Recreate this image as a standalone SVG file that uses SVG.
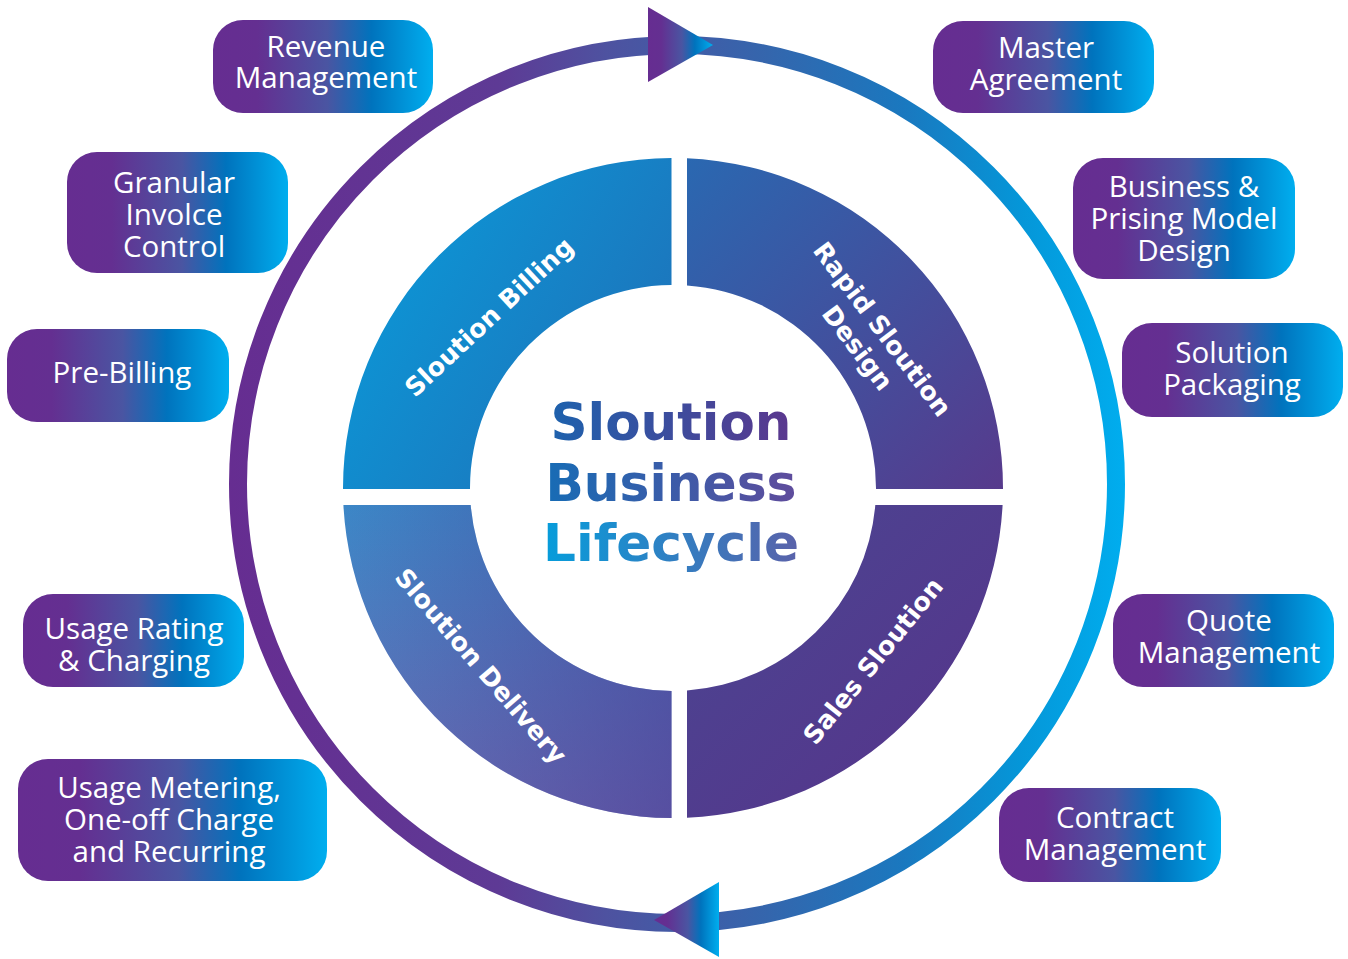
<svg xmlns="http://www.w3.org/2000/svg" width="1348" height="959" viewBox="0 0 1348 959">
<defs>
<linearGradient id="gBox" x1="0" y1="0" x2="1" y2="0">
<stop offset="0" stop-color="#662d91"/><stop offset="0.2" stop-color="#642f91"/><stop offset="0.52" stop-color="#4a55a2"/><stop offset="0.72" stop-color="#0073bd"/><stop offset="1" stop-color="#00aeef"/>
</linearGradient>
<linearGradient id="gRing" gradientUnits="userSpaceOnUse" x1="228" y1="0" x2="1128" y2="0">
<stop offset="0" stop-color="#662d91"/><stop offset="0.3" stop-color="#5e3a95"/><stop offset="0.42" stop-color="#4e52a0"/><stop offset="0.6" stop-color="#3466ad"/><stop offset="0.75" stop-color="#1a78bf"/><stop offset="0.88" stop-color="#0596d8"/><stop offset="1" stop-color="#00aeef"/>
</linearGradient>
<linearGradient id="gBill" x1="0" y1="0.2" x2="1" y2="0.8">
<stop offset="0" stop-color="#0a9ad9"/><stop offset="1" stop-color="#1f70b8"/>
</linearGradient>
<linearGradient id="gDes" x1="0" y1="0" x2="1" y2="1">
<stop offset="0" stop-color="#2a68b1"/><stop offset="1" stop-color="#573a8c"/>
</linearGradient>
<linearGradient id="gSal" x1="0" y1="0" x2="1" y2="1">
<stop offset="0" stop-color="#4a4692"/><stop offset="1" stop-color="#57338a"/>
</linearGradient>
<linearGradient id="gDel" x1="0" y1="0" x2="0" y2="1">
<stop offset="0" stop-color="#3c87c7"/><stop offset="1" stop-color="#6b6db4"/>
</linearGradient>
<linearGradient id="gDelOv" x1="0" y1="0" x2="1" y2="0">
<stop offset="0" stop-color="#4a3b94" stop-opacity="0"/><stop offset="1" stop-color="#4a3b94" stop-opacity="0.6"/>
</linearGradient>
<linearGradient id="gT1" gradientUnits="userSpaceOnUse" x1="548" y1="0" x2="792" y2="0">
<stop offset="0" stop-color="#1d62ad"/><stop offset="1" stop-color="#5b378e"/>
</linearGradient>
<linearGradient id="gT2" gradientUnits="userSpaceOnUse" x1="545" y1="0" x2="797" y2="0">
<stop offset="0" stop-color="#176cb5"/><stop offset="1" stop-color="#5f4c9c"/>
</linearGradient>
<linearGradient id="gT3" gradientUnits="userSpaceOnUse" x1="543" y1="0" x2="799" y2="0">
<stop offset="0" stop-color="#069ddb"/><stop offset="1" stop-color="#5a62aa"/>
</linearGradient>
<style>
.box{fill:url(#gBox)}
.bt{font-family:"Open Sans","Liberation Sans",sans-serif;font-weight:400;font-size:29.5px;fill:#ffffff;text-anchor:middle}
.qt{font-family:"DejaVu Sans","Liberation Sans",sans-serif;font-weight:700;font-size:25.5px;fill:#ffffff;text-anchor:middle}
.tt{font-family:"DejaVu Sans","Liberation Sans",sans-serif;font-weight:700;font-size:52px;text-anchor:middle}
</style>
</defs>
<rect width="1348" height="959" fill="#ffffff"/>

<g id="connectors">
<circle cx="677" cy="484" r="439" fill="none" stroke="url(#gRing)" stroke-width="18"/>
<polygon points="648,7 648,82 713,45" fill="url(#gBox)"/>
<polygon points="654,920 719,882 719,957" fill="url(#gBox)"/>
</g>

<g id="q-billing">
<path d="M343,489 A330,330 0 0 1 671.5,158 L671.5,285 A203,203 0 0 0 470,489 Z" fill="url(#gBill)"/>
<g transform="translate(489,317) rotate(-43)"><text class="qt" x="0" y="9">Sloution Billing</text></g>
</g>
<g id="q-design">
<path d="M687,158.3 A330,330 0 0 1 1003,489 L876,489 A203,203 0 0 0 687,285.5 Z" fill="url(#gDes)"/>
<g transform="translate(882.5,329) rotate(53)"><text class="qt" x="0" y="9">Rapid Sloution</text><text class="qt" x="0" y="40">Design</text></g>
</g>
<g id="q-sales">
<path d="M1002.6,505 A330,330 0 0 1 687,817.7 L687,690.5 A203,203 0 0 0 875.3,505 Z" fill="url(#gSal)"/>
<g transform="translate(873,661) rotate(-51)"><text class="qt" x="0" y="9">Sales Sloution</text></g>
</g>
<g id="q-delivery">
<path d="M671.5,818 A330,330 0 0 1 343.4,505 L470.7,505 A203,203 0 0 0 671.5,691 Z" fill="url(#gDel)"/>
<path d="M671.5,818 A330,330 0 0 1 343.4,505 L470.7,505 A203,203 0 0 0 671.5,691 Z" fill="url(#gDelOv)"/>
<g transform="translate(481,666) rotate(49.3)"><text class="qt" x="0" y="9">Sloution Delivery</text></g>
</g>

<g id="center-title">
<text class="tt" x="671" y="440" fill="url(#gT1)" textLength="241" lengthAdjust="spacingAndGlyphs">Sloution</text>
<text class="tt" x="671" y="500.5" fill="url(#gT2)" textLength="251" lengthAdjust="spacingAndGlyphs">Business</text>
<text class="tt" x="671" y="560.5" fill="url(#gT3)" textLength="256" lengthAdjust="spacingAndGlyphs">Lifecycle</text>
</g>

<g id="n-revenue"><rect class="box" x="213" y="20" width="220" height="93" rx="30"/><text class="bt" x="326" y="56.5">Revenue</text><text class="bt" x="326" y="88">Management</text></g>
<g id="n-granular"><rect class="box" x="67" y="152" width="221" height="121" rx="30"/><text class="bt" x="174" y="193">Granular</text><text class="bt" x="174" y="225">Involce</text><text class="bt" x="174" y="257">Control</text></g>
<g id="n-prebilling"><rect class="box" x="7" y="329" width="222" height="93" rx="30"/><text class="bt" x="122" y="383">Pre-Billing</text></g>
<g id="n-usage-rating"><rect class="box" x="23" y="594" width="221" height="93" rx="30"/><text class="bt" x="134" y="639">Usage Rating</text><text class="bt" x="134" y="671">&amp; Charging</text></g>
<g id="n-usage-metering"><rect class="box" x="18" y="759" width="309" height="122" rx="30"/><text class="bt" x="169" y="798">Usage Metering,</text><text class="bt" x="169" y="830">One-off Charge</text><text class="bt" x="169" y="862">and Recurring</text></g>
<g id="n-master"><rect class="box" x="933" y="21" width="221" height="92" rx="30"/><text class="bt" x="1046" y="58">Master</text><text class="bt" x="1046" y="90">Agreement</text></g>
<g id="n-business"><rect class="box" x="1073" y="158" width="222" height="121" rx="30"/><text class="bt" x="1184" y="197">Business &amp;</text><text class="bt" x="1184" y="229">Prising Model</text><text class="bt" x="1184" y="261">Design</text></g>
<g id="n-packaging"><rect class="box" x="1122" y="323" width="221" height="94" rx="30"/><text class="bt" x="1232" y="363">Solution</text><text class="bt" x="1232" y="395">Packaging</text></g>
<g id="n-quote"><rect class="box" x="1113" y="594" width="221" height="93" rx="30"/><text class="bt" x="1229" y="631">Quote</text><text class="bt" x="1229" y="663">Management</text></g>
<g id="n-contract"><rect class="box" x="999" y="788" width="222" height="94" rx="30"/><text class="bt" x="1115" y="828">Contract</text><text class="bt" x="1115" y="860">Management</text></g>
</svg>
